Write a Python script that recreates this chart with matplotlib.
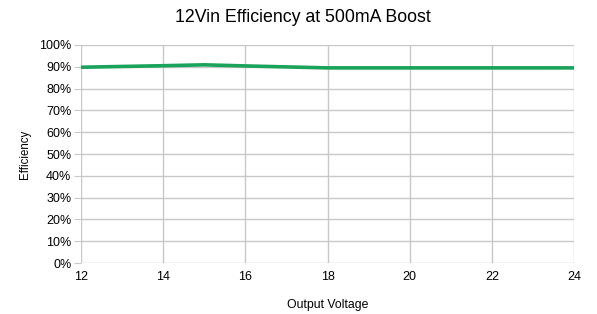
import numpy as np
import matplotlib
matplotlib.use("Agg")
import matplotlib.pyplot as plt
from matplotlib.ticker import PercentFormatter

# data
voltage = [12, 14, 15, 16, 18, 20, 22, 24]
efficiency = [89.8, 90.5, 90.9, 90.4, 89.5, 89.5, 89.5, 89.5]

plt.rcParams['font.family'] = ['Liberation Sans', 'DejaVu Sans']

fig = plt.figure(figsize=(5.97, 3.14), dpi=100)
ax = fig.add_axes([0.1357, 0.1624, 0.8258, 0.6943])

ax.plot(voltage, efficiency, color='#1aa35a', linewidth=2.6, solid_capstyle='butt', zorder=3)

ax.set_xlim(12, 24)
ax.set_ylim(0, 100)
ax.set_xticks(np.arange(12, 25, 2))
ax.set_yticks(np.arange(0, 101, 10))
ax.yaxis.set_major_formatter(PercentFormatter(decimals=0))
ax.grid(True, color='#c8c8c8', linewidth=1)
ax.set_axisbelow(True)
for s in ax.spines.values():
    s.set_visible(False)
ax.tick_params(axis='y', length=5, color='#c8c8c8', labelsize=9, pad=2)
ax.tick_params(axis='x', length=0, labelsize=9, pad=6)

ax.set_xlabel('Output Voltage', fontsize=8.8, labelpad=11)
ax.set_ylabel('Efficiency', fontsize=8.3, labelpad=6)
fig.text(0.508, 0.945, '12Vin Efficiency at 500mA Boost', fontsize=12.8, ha='center', va='center')

fig.savefig('out.png', dpi=100)
